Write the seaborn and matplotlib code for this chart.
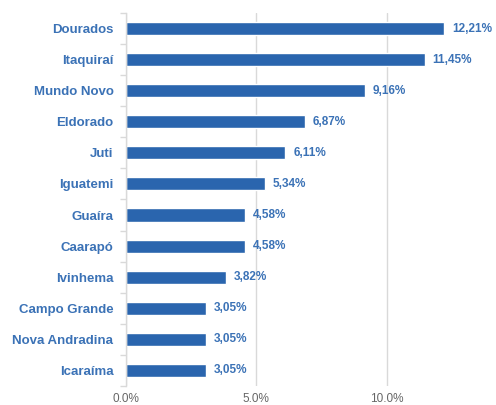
import pandas as pd
import seaborn as sns
import numpy as np
import matplotlib.pyplot as plt
from matplotlib.ticker import FixedLocator, FuncFormatter

# municipios e percentuais
cities = ['Dourados', 'Itaquiraí', 'Mundo Novo', 'Eldorado', 'Juti', 'Iguatemi',
          'Guaíra', 'Caarapó', 'Ivinhema', 'Campo Grande', 'Nova Andradina', 'Icaraíma']
percents = [12.21, 11.45, 9.16, 6.87, 6.11, 5.34, 4.58, 4.58, 3.82, 3.05, 3.05, 3.05]
xticks = [0, 5, 10]

data = pd.DataFrame({'city': cities, 'pct': percents})

bar_color = '#2A65AE'
text_color = '#3B72B6'

sns.set_style('white')
plt.rcParams['font.family'] = ['Liberation Sans', 'DejaVu Sans']

fig = plt.figure(figsize=(4.96, 4.05), dpi=100)
ax = fig.add_axes([0.254, 0.047, 0.736, 0.921])

sns.barplot(x='pct', y='city', data=data, color=bar_color, width=0.42,
            saturation=1, ax=ax, orient='h')

for i, v in enumerate(percents):
    ax.text(v + 0.3, i, f"{v:.2f}%".replace('.', ','), va='center', ha='left',
            color=text_color, fontsize=8.5, fontweight='bold')

ax.set_xlim(0, 14)
ax.set_ylim(len(cities) - 0.5, -0.5)
ax.set_xticks(xticks)
ax.xaxis.set_major_formatter(FuncFormatter(lambda x, p: f"{x:.1f}%"))
ax.grid(axis='x', color='#D9D9D9', linewidth=1)
ax.grid(axis='y', visible=False)
ax.set_axisbelow(True)

for s in ['top', 'right', 'bottom']:
    ax.spines[s].set_visible(False)
ax.spines['left'].set_color('#D9D9D9')
ax.spines['left'].set_linewidth(1)

ax.tick_params(axis='x', length=0, labelsize=8.5, labelcolor='#666666', pad=5)
ax.tick_params(axis='y', which='major', length=0, pad=9, labelsize=9.5, labelcolor=text_color)
ax.yaxis.set_minor_locator(FixedLocator(np.arange(-0.5, len(cities), 1)))
ax.tick_params(axis='y', which='minor', length=4, color='#D9D9D9', width=1, left=True)
for lbl in ax.get_yticklabels():
    lbl.set_fontweight('bold')

ax.set_xlabel('')
ax.set_ylabel('')

plt.savefig('out.png', dpi=100)
